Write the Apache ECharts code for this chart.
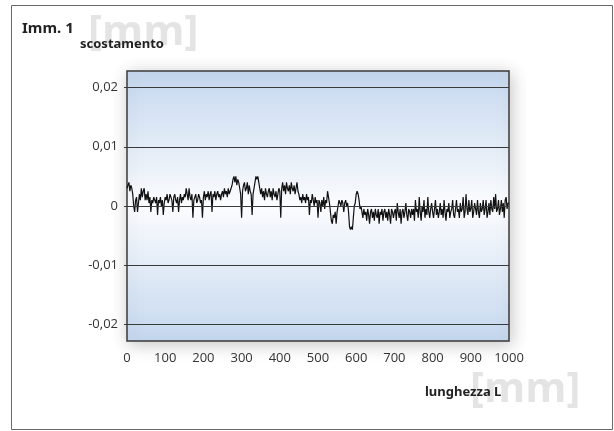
<!DOCTYPE html>
<html>
<head>
<meta charset="utf-8">
<script src="https://cdn.jsdelivr.net/npm/echarts@6/dist/echarts.min.js"></script>
<style>
html,body{margin:0;padding:0;background:#fff;}
#c{width:614px;height:431px;}
</style>
</head>
<body>
<div id="c"></div>
<script>
// sample step along L (mm)
var xStep = 2.5;
// deviation values in micrometres (converted to mm below), one per sample
var deviationUm = [
  3, 3.5, 4, 2.5, 3.5, 3, 2, 0, -1, 1,
  1.5, -1, 0.5, 2, 1, 3, 1.5, 2.5, 3, 1,
  2, 1, 2.5, 0.5, 1.5, -1, 1, 0.5, 1.5, 1,
  0.5, 1.5, -1.5, 1, 0.5, 1.5, 0, 1, -1.5, 0.5,
  1.5, 1, 2, 0.5, 1, 2, 1.5, 1, -1, 1.5,
  2, 1, 0.5, 1.5, -1, 1, 2, 0.5, 1.5, 1,
  2, 1.5, 3, 2, 1, 3, 1.5, 1, 2, -2,
  1, 1.5, 2, 0.5, 1, 2, 1.5, 0.5, 1, -2,
  1.5, 2.5, 1, 2, 1.5, 2.5, 1, 2, 2.5, -1,
  2, 1.5, 2.5, 1, 2, 2.5, 1.5, 2, 1, 2,
  2.5, 1.5, 3, 2, 2.5, 1.5, 3, 2, 2.5, 3,
  3.5, 4.5, 5, 4, 5, 3.5, 4.5, 4, 3, 2,
  -2, 2.5, 3.5, 4, 2.5, 3, 4, 2, 3.5, 2.5,
  2, -1.5, 2, 3, 4, 5, 4.5, 5, 4, 3,
  2, 3, 1.5, 2.5, 1, 3, 2, 1.5, 2.5, 3,
  1.5, 2.5, 1, 3, 2, 1.5, 2.5, 1, 2, 3,
  2.5, -2, 3, 4, 2.5, 3.5, 2, 4, 3, 2.5,
  3.5, 2, 4, 3, 2.5, 3.5, 2, 3, 4, 2.5,
  2, 1, 1.5, 0.5, 2, 1, 1.5, 0.5, 2, 1,
  1.5, -1.5, 1, 0.5, 2, 1, 0, 1.5, 0.5, 1,
  -2, 1, 0.5, -1, 1, 0, 1.5, -0.5, 1, 0.5,
  2.5, 1.5, 0.5, -1, -2.5, -3, -1.5, -2, -1, -3,
  -1, 0, 1, 0.5, 0, 1, 0.5, -1, 0.5, 1,
  0, 0.5, -1, -3.5, -4, -3.5, -4, -2, 0, 0.5,
  2, 2.5, 2, 1, -0.5, 0, -1, -2, -0.5, -1.5,
  -1, -2.5, -0.5, -1.5, -3, -1, -0.5, -2, -1, -2.5,
  -0.5, -1.5, -2, -0.5, -3, -1, -1.5, -0.5, -2.5, -1,
  -0.5, -2, -1, -2.5, -0.5, -1.5, -3, -0.5, -1, -2,
  -1, -0.5, -2.5, 0.5, -1, -2, -0.5, -3, -1, -0.5,
  -2, -1, 0.5, -1.5, -2.5, -0.5, -1, -2, -0.5, -1.5,
  -0.5, -2.5, 1, -1, -0.5, -2, 1.5, -1, -2.5, 0,
  -1, 1, -2, -0.5, -1.5, 1.5, -1, -2, -0.5, 0.5,
  -1, -2, -0.5, 1, -1.5, -0.5, -2, -1, 0.5, -1.5,
  -0.5, -2, 1, -1, -2.5, -0.5, -1, 0.5, -2, -1,
  -0.5, 1, -1.5, -2, -0.5, 1, -1, -0.5, -2, 0.5,
  -1, -0.5, 1.5, -2, -1, 2, -0.5, -1.5, 1, -1,
  -0.5, 1, -2, -1, 0.5, -0.5, -1.5, 1, -1, -2,
  0.5, -1, -0.5, 1, -1.5, -0.5, 1, -2, -1, 0.5,
  -1.5, 1, -0.5, -1, 1.5, -0.5, 2, -1, -0.5, 1,
  -1.5, -0.5, 1, -1, 0.5, -2, 1, 1.5, -0.5, 0.5,
  0.5
];
var yTicks = [-0.02, -0.01, 0, 0.01, 0.02];
var xTicks = [0, 100, 200, 300, 400, 500, 600, 700, 800, 900, 1000];

var seriesData = deviationUm.map(function (v, i) { return [i * xStep, v / 1000]; });

var chart = echarts.init(document.getElementById('c'), null, {renderer: 'canvas'});
var fontFam = '"Open Sans", "Noto Sans", sans-serif';
chart.setOption({
  animation: false,
  backgroundColor: '#ffffff',
  grid: {
    left: 127, top: 71, right: 105, bottom: 90,
    show: true,
    borderColor: '#3a3a3a', borderWidth: 1.5,
    backgroundColor: {
      type: 'linear', x: 0, y: 0, x2: 0, y2: 1,
      colorStops: [
        {offset: 0, color: '#c5d8ef'},
        {offset: 0.5, color: '#fbfcfe'},
        {offset: 1, color: '#c5d8ef'}
      ]
    },
    shadowColor: 'rgba(0,0,0,0.22)', shadowBlur: 16, shadowOffsetX: 2, shadowOffsetY: 3
  },
  xAxis: {
    type: 'value', min: 0, max: 1000, interval: 100,
    axisLine: {show: false},
    axisTick: {show: false},
    splitLine: {show: false},
    axisLabel: {color: '#333', fontSize: 13, fontFamily: fontFam, margin: 11,
      customValues: xTicks,
      formatter: function (v) { return String(v); }}
  },
  yAxis: {
    type: 'value', min: -0.0228, max: 0.0228,
    axisLine: {show: false},
    axisTick: {show: true, length: 3, inside: false, lineStyle: {color: '#3a3a3a'}, customValues: yTicks},
    splitLine: {show: false},
    axisLabel: {color: '#333', fontSize: 13, fontFamily: fontFam, margin: 9,
      customValues: yTicks,
      formatter: function (v) { return String(Math.round(v * 1000) / 1000).replace('.', ','); }}
  },
  series: [{
    type: 'line',
    data: seriesData,
    step: 'end',
    showSymbol: false,
    symbol: 'none',
    lineStyle: {color: '#111', width: 1.2},
    z: 3,
    markLine: {
      silent: true, symbol: 'none', animation: false,
      label: {show: false},
      lineStyle: {color: '#3a3a3a', width: 1, type: 'solid'},
      data: yTicks.map(function (t) { return {yAxis: t}; })
    }
  }],
  graphic: [
    {type: 'rect', shape: {x: 11.5, y: 5.5, width: 601, height: 424}, style: {fill: 'none', stroke: '#6a6a6a', lineWidth: 1}, z: 0},
    {type: 'text', left: 88, top: 12, z: 1, style: {text: '[mm]', font: 'bold 42px "Open Sans", sans-serif', fill: '#e4e4e4'}},
    {type: 'text', left: 470, top: 369, z: 1, style: {text: '[mm]', font: 'bold 42px "Open Sans", sans-serif', fill: '#e4e4e4'}},
    {type: 'text', left: 22, top: 21, z: 5, style: {text: 'Imm. 1', font: 'bold 15px "Noto Sans", sans-serif', fill: '#222'}},
    {type: 'text', left: 80, top: 38, z: 5, style: {text: 'scostamento', font: 'bold 13px "Noto Sans", sans-serif', fill: '#222'}},
    {type: 'text', left: 425, top: 386, z: 5, style: {text: 'lunghezza L', font: 'bold 13px "Noto Sans", sans-serif', fill: '#222'}}
  ]
});
</script>
</body>
</html>
